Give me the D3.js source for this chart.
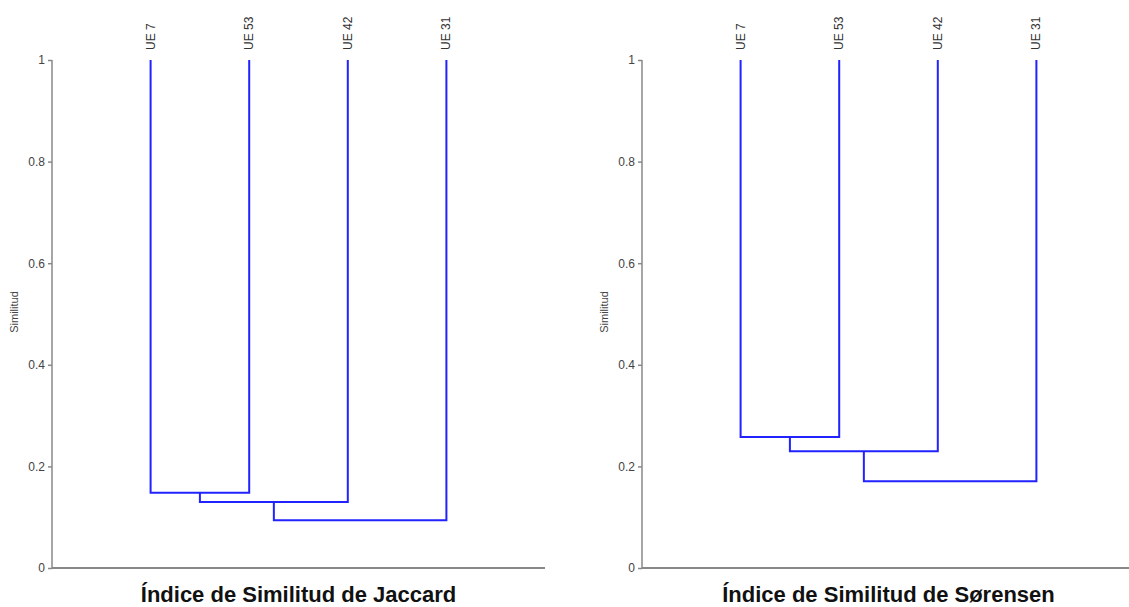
<!DOCTYPE html>
<html>
<head>
<meta charset="utf-8">
<script src="https://cdn.jsdelivr.net/npm/d3@7"></script>
<style>
  body { margin: 0; background: #fff; }
  .axis path, .axis line { stroke: #888; stroke-width: 1.5; }
  .axis text { font-family: 'Liberation Sans', Arial, sans-serif; font-size: 12px; fill: #444; }
</style>
</head>
<body>
<div id="chart"></div>
<script>
// leaves in dendrogram order, merges go left to right (cluster so far + next leaf)
var leaves = ['UE 7', 'UE 53', 'UE 42', 'UE 31']
var jaccardMerges = [0.148, 0.130, 0.094]
var sorensenMerges = [0.258, 0.230, 0.171]
var yTicks = [0, 0.2, 0.4, 0.6, 0.8, 1]
var titles = ['Índice de Similitud de Jaccard', 'Índice de Similitud de Sørensen']

var width = 1129
var height = 607

var svg = d3.select('#chart')
    .append('svg')
    .attr('width', width)
    .attr('height', height)

var plotTop = 60
var plotBottom = 568

function dendro(left, merges, title) {
    var right = left + 493
    var g = svg.append('g')

    var xScale = d3.scalePoint()
        .domain(leaves)
        .range([left, right])
        .padding(1)

    var yScale = d3.scaleLinear()
        .domain([0, 1])
        .range([plotBottom, plotTop])

    g.append('g')
        .attr('class', 'axis')
        .attr('transform', 'translate(' + left + ',0)')
        .call(d3.axisLeft(yScale).tickValues(yTicks).tickSize(4).tickFormat(d3.format('~g')))
        .call(function (a) { a.select('.domain').attr('d', 'M0,' + plotTop + 'V' + plotBottom) })

    g.append('line')
        .attr('x1', left).attr('x2', right)
        .attr('y1', plotBottom).attr('y2', plotBottom)
        .attr('stroke', '#888')
        .attr('stroke-width', 2)

    g.append('text')
        .attr('transform', 'translate(' + (left - 34) + ',' + 312 + ')rotate(-90)')
        .attr('text-anchor', 'middle')
        .attr('font-family', 'Liberation Sans, Arial, sans-serif')
        .attr('font-size', 11)
        .attr('fill', '#444')
        .text('Similitud')

    // leaf labels
    g.selectAll('.leaf')
        .data(leaves)
        .enter()
        .append('text')
        .attr('transform', (d) => 'translate(' + (xScale(d) + 4) + ',50)rotate(-90)')
        .attr('font-family', 'Liberation Sans, Arial, sans-serif')
        .attr('font-size', 12)
        .attr('fill', '#333')
        .text((d) => d)

    // build the links
    var path = d3.path()
    var cx = xScale(leaves[0])
    var cy = 1
    merges.forEach(function (h, i) {
        var nx = xScale(leaves[i + 1])
        path.moveTo(cx, yScale(cy))
        path.lineTo(cx, yScale(h))
        path.lineTo(nx, yScale(h))
        path.lineTo(nx, yScale(1))
        cx = (cx + nx) / 2
        cy = h
    })

    g.append('path')
        .attr('d', path.toString())
        .attr('fill', 'none')
        .attr('stroke', '#2222ff')
        .attr('stroke-width', 2)

    g.append('text')
        .attr('x', (left + right) / 2)
        .attr('y', 602)
        .attr('text-anchor', 'middle')
        .attr('font-family', 'Liberation Sans, Arial, sans-serif')
        .attr('font-weight', 'bold')
        .attr('font-size', 22)
        .attr('fill', '#111')
        .text(title)
}

dendro(52, jaccardMerges, titles[0])
dendro(642, sorensenMerges, titles[1])
</script>
</body>
</html>
